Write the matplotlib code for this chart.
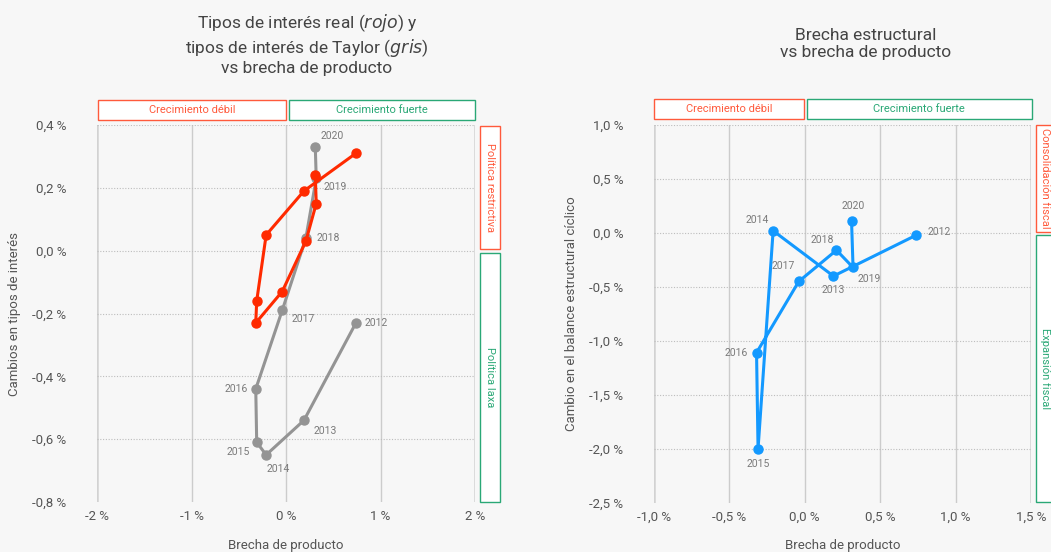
import matplotlib
matplotlib.use("Agg")
import matplotlib.pyplot as plt
from matplotlib.patches import Rectangle
from matplotlib.ticker import FuncFormatter

# ---------------- data ----------------
years = ["2012", "2013", "2014", "2015", "2016", "2017", "2018", "2019", "2020"]
output_gap = [0.74, 0.19, -0.21, -0.31, -0.32, -0.04, 0.21, 0.32, 0.31]
real_rate_change = [0.31, 0.19, 0.05, -0.16, -0.23, -0.13, 0.03, 0.15, 0.24]
taylor_rate_change = [-0.23, -0.54, -0.65, -0.61, -0.44, -0.19, 0.04, 0.23, 0.33]
structural_balance_change = [-0.02, -0.40, 0.02, -2.00, -1.11, -0.45, -0.16, -0.32, 0.11]

left_xticks = [-2, -1, 0, 1, 2]
left_yticks = [-0.8, -0.6, -0.4, -0.2, 0.0, 0.2, 0.4]
right_xticks = [-1.0, -0.5, 0.0, 0.5, 1.0, 1.5]
right_yticks = [-2.5, -2.0, -1.5, -1.0, -0.5, 0.0, 0.5, 1.0]

# ---------------- style ----------------
W, H = 1051, 552
BG = "#f7f7f7"
RED = "#ff2a00"
GRAY = "#949494"
BLUE = "#1399ff"
BOX_RED = "#ff5a3c"
BOX_GREEN = "#2aa876"
TXT = "#555555"
FONT = ["Roboto", "DejaVu Sans"]
plt.rcParams["font.family"] = FONT

fig = plt.figure(figsize=(W / 100, H / 100), dpi=100, facecolor=BG)


def fx(px):
    return px / W


def fy(py):
    return 1 - py / H


def add_axes(x0, x1, y0, y1):
    return fig.add_axes([fx(x0), fy(y1), fx(x1) - fx(x0), fy(y0) - fy(y1)])


def style_axes(ax, xticks, yticks, xfmt, yfmt):
    ax.set_facecolor(BG)
    for s in ax.spines.values():
        s.set_visible(False)
    ax.set_xticks(xticks)
    ax.set_yticks(yticks)
    ax.set_xlim(xticks[0], xticks[-1])
    ax.set_ylim(yticks[0], yticks[-1])
    ax.xaxis.set_major_formatter(FuncFormatter(xfmt))
    ax.yaxis.set_major_formatter(FuncFormatter(yfmt))
    ax.tick_params(length=0, labelsize=9.5, colors=TXT)
    ax.tick_params(axis="y", pad=22)
    ax.tick_params(axis="x", pad=6)
    for i, xv in enumerate(xticks):
        edge = i in (0, len(xticks) - 1)
        ax.axvline(xv, color="#d2d2d2" if edge else "#cccccc", lw=1.8 if edge else 1.0, zorder=0)
    for yv in yticks[1:]:
        ax.axhline(yv, color="#bdbdbd", lw=0.8, ls=(0, (1, 1.5)), zorder=0)


def box(x0, x1, y0, y1, color, text, rot=0, tx=None):
    r = Rectangle((fx(x0), fy(y1)), fx(x1) - fx(x0), fy(y0) - fy(y1),
                  transform=fig.transFigure, facecolor="white", edgecolor=color, lw=1.0)
    fig.patches.append(r)
    cx = (x0 + x1) / 2 if tx is None else tx
    fig.text(fx(cx), fy((y0 + y1) / 2), text, color=color, fontsize=8,
             rotation=rot, ha="center", va="center")


def fmt_int(v, p):
    return f"{v:.0f} %".replace("-0 %", "0 %")


def fmt_1(v, p):
    return f"{v:.1f} %".replace(".", ",").replace("-0,0", "0,0")


# ---------------- left chart ----------------
ax1 = add_axes(97, 475, 125, 502)
style_axes(ax1, left_xticks, left_yticks, fmt_int, fmt_1)
ax1.plot(output_gap, taylor_rate_change, color=GRAY, lw=2.2, marker="o", ms=6.5, zorder=3)
ax1.plot(output_gap, real_rate_change, color=RED, lw=2.2, marker="o", ms=6.5, zorder=4)

left_offsets = {
    "2012": (6, 0, "left", "center"),
    "2013": (7, -8, "left", "center"),
    "2014": (0, -10, "left", "center"),
    "2015": (-5, -7, "right", "center"),
    "2016": (-6, 0, "right", "center"),
    "2017": (7, -6, "left", "center"),
    "2018": (8, 0, "left", "center"),
    "2019": (5, -6, "left", "center"),
    "2020": (4, 8, "left", "center"),
}
for yr, xv, yv in zip(years, output_gap, taylor_rate_change):
    dx, dy, ha, va = left_offsets[yr]
    ax1.annotate(yr, (xv, yv), xytext=(dx, dy), textcoords="offset points",
                 fontsize=7.5, color="#7a7a7a", ha=ha, va=va, zorder=5)

ax1.set_xlabel("Brecha de producto", fontsize=9.5, color=TXT, labelpad=11)
ax1.set_ylabel("Cambios en tipos de interés", fontsize=9.5, color=TXT, labelpad=8)

fig.text(fx(307), fy(44), "Tipos de interés real ($\\it{rojo}$) y\n"
         "tipos de interés de Taylor ($\\it{gris}$)\nvs brecha de producto",
         ha="center", va="center", fontsize=12.5, color="#444444", linespacing=1.2)

box(98, 286, 100, 120, BOX_RED, "Crecimiento débil")
box(289, 475, 100, 120, BOX_GREEN, "Crecimiento fuerte")
box(480, 500, 126, 249, BOX_RED, "Política restrictiva", rot=-90)
box(480, 500, 253, 502, BOX_GREEN, "Política laxa", rot=-90)

# ---------------- right chart ----------------
ax2 = add_axes(654, 1031, 125, 502.7)
style_axes(ax2, right_xticks, right_yticks, fmt_1, fmt_1)
ax2.plot(output_gap, structural_balance_change, color=BLUE, lw=2.2, marker="o", ms=6.5, zorder=3)

right_offsets = {
    "2012": (8, 2, "left", "center"),
    "2013": (0, -10, "center", "center"),
    "2014": (-3, 8, "right", "center"),
    "2015": (0, -11, "center", "center"),
    "2016": (-6, 0, "right", "center"),
    "2017": (-3, 11, "right", "center"),
    "2018": (-2, 7, "right", "center"),
    "2019": (3, -8, "left", "center"),
    "2020": (1, 11, "center", "center"),
}
for yr, xv, yv in zip(years, output_gap, structural_balance_change):
    dx, dy, ha, va = right_offsets[yr]
    ax2.annotate(yr, (xv, yv), xytext=(dx, dy), textcoords="offset points",
                 fontsize=7.5, color="#7a7a7a", ha=ha, va=va, zorder=5)

ax2.set_xlabel("Brecha de producto", fontsize=9.5, color=TXT, labelpad=11)
ax2.set_ylabel("Cambio en el balance estructural cíclico", fontsize=9.5, color=TXT, labelpad=8)

fig.text(fx(866), fy(44), "Brecha estructural\nvs brecha de producto",
         ha="center", va="center", fontsize=12.5, color="#444444", linespacing=1.2)

box(654, 803.5, 99, 119, BOX_RED, "Crecimiento débil")
box(806.5, 1031.5, 99, 119, BOX_GREEN, "Crecimiento fuerte")
box(1036, 1062, 125, 232, BOX_RED, "Consolidación fiscal", rot=-90, tx=1045)
box(1036, 1062, 235, 502, BOX_GREEN, "Expansión fiscal", rot=-90, tx=1045)

fig.savefig("out.png", dpi=100, facecolor=BG)
